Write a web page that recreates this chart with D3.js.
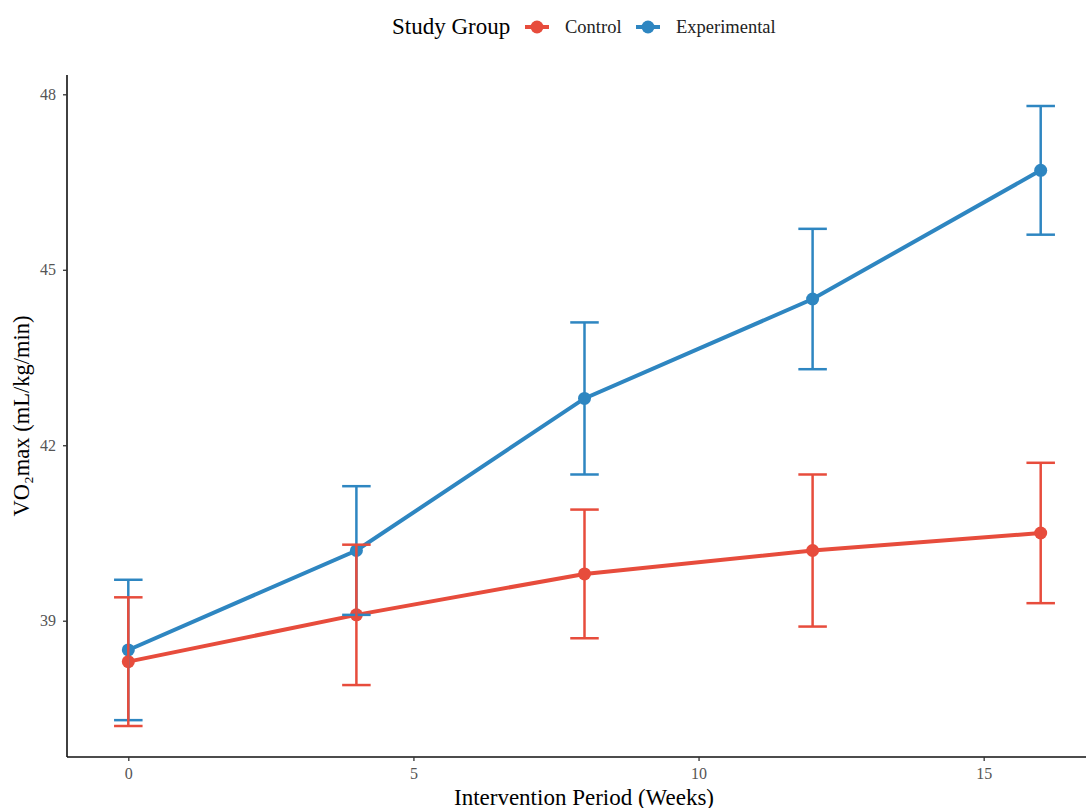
<!DOCTYPE html>
<html>
<head>
<meta charset="utf-8">
<script src="https://cdn.jsdelivr.net/npm/d3@7"></script>
<style>
  body { margin: 0; background: #fff; }
  text { font-family: "Liberation Serif", "Times New Roman", serif; }
</style>
</head>
<body>
<svg width="1086" height="808"></svg>
<script>
const weeks = [0, 4, 8, 12, 16];
const groups = ['Control', 'Experimental'];
const controlMean = [38.3, 39.1, 39.8, 40.2, 40.5];
const controlErr  = [1.1, 1.2, 1.1, 1.3, 1.2];
const expMean = [38.5, 40.2, 42.8, 44.5, 46.7];
const expErr  = [1.2, 1.1, 1.3, 1.2, 1.1];
const xTicks = [0, 5, 10, 15];
const yTicks = [39, 42, 45, 48];
const colors = { Control: '#E74C3C', Experimental: '#2E86C1' };

const svg = d3.select('svg');

// drawn Experimental first so Control sits on top, as in the original
const series = [
  { name: 'Experimental', values: weeks.map((w, i) => ({ x: w, y: expMean[i], e: expErr[i] })) },
  { name: 'Control', values: weeks.map((w, i) => ({ x: w, y: controlMean[i], e: controlErr[i] })) }
];

const panelLeft = 67, panelBottom = 757, panelTop = 75;

const xScale = d3.scaleLinear().domain([-1.075, 17.075]).range([panelLeft, 1102]);
const yScale = d3.scaleLinear().domain([36.67, 48.33]).range([panelBottom, panelTop]);

// axes
const xAxisG = svg.append('g').attr('transform', `translate(0,${panelBottom})`)
  .call(d3.axisBottom(xScale).tickValues(xTicks).tickSize(4).tickPadding(7));
const yAxisG = svg.append('g').attr('transform', `translate(${panelLeft},0)`)
  .call(d3.axisLeft(yScale).tickValues(yTicks).tickSize(4).tickPadding(7));

[xAxisG, yAxisG].forEach(g => {
  g.select('.domain').attr('stroke', '#111').attr('stroke-width', 1.6)
  g.selectAll('.tick line').attr('stroke', '#333').attr('stroke-width', 1.3);
  g.selectAll('.tick text').attr('fill', '#555').style('font-size', '16px')
    .style('font-family', '"Liberation Serif", serif');
});
xAxisG.select('.domain').attr('d', `M${panelLeft},0H1086`);
yAxisG.select('.domain').attr('d', `M0,${panelTop}V${panelBottom}`);

// axis titles
svg.append('text')
  .attr('x', 584).attr('y', 805)
  .attr('text-anchor', 'middle').style('font-size', '23px')
  .text('Intervention Period (Weeks)');

svg.append('text')
  .attr('transform', `translate(29,${(panelTop + panelBottom) / 2}) rotate(-90)`)
  .attr('text-anchor', 'middle').style('font-size', '22.5px')
  .text('VO\u2082max (mL/kg/min)');

const line = d3.line().x(d => xScale(d.x)).y(d => yScale(d.y));

series.forEach(s => {
  svg.append('path').attr('d', line(s.values))
    .attr('fill', 'none').attr('stroke', colors[s.name]).attr('stroke-width', 4);
});

series.forEach(s => {
  svg.append('g').selectAll('circle').data(s.values).enter().append('circle')
    .attr('cx', d => xScale(d.x)).attr('cy', d => yScale(d.y)).attr('r', 6.5)
    .attr('fill', colors[s.name]);
});

series.forEach(s => {
  const c = colors[s.name];
  const eb = svg.append('g').selectAll('.eb').data(s.values).enter().append('g');
  eb.append('line')
    .attr('x1', d => xScale(d.x)).attr('x2', d => xScale(d.x))
    .attr('y1', d => yScale(d.y - d.e)).attr('y2', d => yScale(d.y + d.e))
    .attr('stroke', c).attr('stroke-width', 2.5);
  [-1, 1].forEach(k => {
    eb.append('line')
      .attr('x1', d => xScale(d.x - 0.25)).attr('x2', d => xScale(d.x + 0.25))
      .attr('y1', d => yScale(d.y + k * d.e)).attr('y2', d => yScale(d.y + k * d.e))
      .attr('stroke', c).attr('stroke-width', 2.5);
  });
});

// legend
const legend = svg.append('g').attr('transform', 'translate(392,27)');
legend.append('text').attr('x', 0).attr('y', 7).style('font-size', '23px').text('Study Group');
const keyX = [133, 244];
groups.forEach((name, i) => {
  const k = legend.append('g').attr('transform', `translate(${keyX[i]},0)`);
  k.append('line').attr('x1', 0).attr('x2', 24).attr('y1', 0).attr('y2', 0)
    .attr('stroke', colors[name]).attr('stroke-width', 4);
  k.append('circle').attr('cx', 12).attr('cy', 0).attr('r', 6.5).attr('fill', colors[name]);
  k.append('text').attr('x', 40).attr('y', 6).style('font-size', '18.5px').attr('fill', '#222').text(name);
});
</script>
</body>
</html>
